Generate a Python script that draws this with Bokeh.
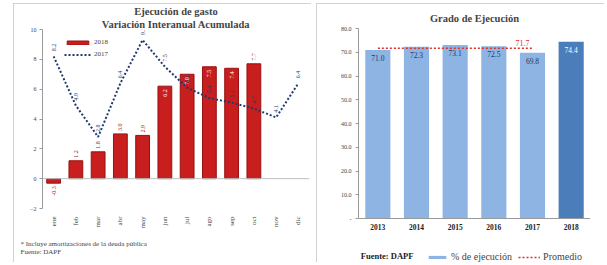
import math
from bokeh.plotting import figure
from bokeh.models import (ColumnDataSource, FactorRange, Range1d, FixedTicker, Span,
                          Legend, LegendItem, Title, NumeralTickFormatter, InlineStyleSheet)
from bokeh.embed import file_html
from bokeh.resources import INLINE
from bokeh.core.properties import value

# ---------------- data ----------------
months = ["ene", "feb", "mar", "abr", "may", "jun", "jul", "ago", "sep", "oct", "nov", "dic"]
var_2018 = [-0.3, 1.2, 1.8, 3.0, 2.9, 6.2, 7.0, 7.5, 7.4, 7.7]
var_2017 = [8.2, 4.9, 2.8, 6.4, 9.3, 7.5, 6.1, 5.4, 5.1, 4.7, 4.1, 6.4]
left_ticks = [-2, 0, 2, 4, 6, 8, 10]

years = ["2013", "2014", "2015", "2016", "2017", "2018"]
grado = [71.0, 72.3, 73.1, 72.5, 69.8, 74.4]
promedio = 71.7
right_ticks = [0, 10, 20, 30, 40, 50, 60, 70, 80]

SERIF = "Liberation Serif"
H = 259
W1, W2 = 298, 288

def panel_css(extra=""):
    return [InlineStyleSheet(css=":host { float: left; outline: 1px solid #C4C4C4; "
                                 "outline-offset: -1px; %s }" % extra)]

# ---------------- left chart ----------------
p1 = figure(width=W1, height=H, x_range=FactorRange(*months), y_range=Range1d(-2, 10),
            output_backend="svg", toolbar_location=None, title=None,
            min_border_left=29, min_border_right=2, min_border_top=26, min_border_bottom=53)
p1.stylesheets = panel_css("margin: 3px 5px 0 13px;")
p1.outline_line_color = None
p1.grid.visible = False

src18 = ColumnDataSource(dict(m=months[:len(var_2018)], v=var_2018,
                              t=["{:.1f}".format(v) for v in var_2018]))
bars18 = p1.vbar(x="m", top="v", bottom=0, width=0.62, source=src18,
                 fill_color="#C81E1E", line_color="#9A1010", line_width=1)

p1.add_layout(Span(location=0, dimension="width", line_color="#BFBFBF", line_width=1))

src17 = ColumnDataSource(dict(m=months, v=var_2017, t=["{:.1f}".format(v) for v in var_2017]))
line17 = p1.line(x="m", y="v", source=src17, line_color="#1F3A6E", line_width=2,
                 line_dash="2 2")

p1.text(x="m", y="v", text="t", source=src17, angle=math.pi / 2, text_align="left",
        text_baseline="middle", y_offset=-5, text_font=value(SERIF),
        text_font_size="6px", text_color="#1F3A6E")

inside_idx = [5, 6, 7, 8]
above = [i for i in range(len(var_2018)) if i not in inside_idx and var_2018[i] >= 0]
below = [i for i in range(len(var_2018)) if var_2018[i] < 0]
def sub(idx):
    return ColumnDataSource(dict(m=[months[i] for i in idx], v=[var_2018[i] for i in idx],
                                 t=["{:.1f}".format(var_2018[i]) for i in idx]))
p1.text(x="m", y="v", text="t", source=sub(above), angle=math.pi / 2, text_align="left",
        text_baseline="middle", y_offset=-3, text_font=value(SERIF),
        text_font_size="6px", text_color="#A01010")
p1.text(x="m", y="v", text="t", source=sub(inside_idx), angle=math.pi / 2, text_align="right",
        text_baseline="middle", y_offset=3, text_font=value(SERIF),
        text_font_size="6px", text_color="white")
p1.text(x="m", y="v", text="t", source=sub(below), angle=math.pi / 2, text_align="right",
        text_baseline="middle", y_offset=3, text_font=value(SERIF),
        text_font_size="6px", text_color="#C00000")

ya = p1.yaxis[0]
ya.ticker = FixedTicker(ticks=left_ticks)
ya.axis_line_color = "#9A9A9A"
ya.major_tick_line_color = "#9A9A9A"
ya.major_tick_out = 3
ya.major_tick_in = 0
ya.minor_tick_line_color = None
ya.major_label_text_font = SERIF
ya.major_label_text_font_size = "6px"
ya.major_label_standoff = 3

xa = p1.xaxis[0]
xa.axis_line_color = None
xa.major_tick_line_color = None
xa.minor_tick_line_color = None
xa.major_label_orientation = math.pi / 2
xa.major_label_text_font = SERIF
xa.major_label_text_font_size = "7px"
xa.major_label_standoff = 2

leg1 = Legend(items=[LegendItem(label="2018", renderers=[bars18]),
                     LegendItem(label="2017", renderers=[line17])],
              location=(22, 148), orientation="vertical", margin=0, padding=2, spacing=0,
              glyph_width=27, glyph_height=5, label_height=12, label_standoff=3,
              label_text_font=SERIF, label_text_font_size="7px",
              background_fill_alpha=0, border_line_color=None)
p1.add_layout(leg1, "center")

p1.add_layout(Title(text="Variación Interanual Acumulada", align="center", text_font=SERIF,
                    text_font_size="10.5px", text_font_style="bold", standoff=0), "above")
p1.add_layout(Title(text="Ejecución de gasto", align="center", text_font=SERIF,
                    text_font_size="10.5px", text_font_style="bold", standoff=0), "above")
p1.add_layout(Title(text="* Incluye amortizaciones de la deuda pública\nFuente: DAPF",
                    align="left", offset=-22, text_font=SERIF, text_font_size="7px",
                    text_font_style="normal", text_line_height=1.05, standoff=13), "below")

# ---------------- right chart ----------------
TOP2, ZERO2 = 25, 215          # canvas rows of the 80 and 0 gridlines
Y_LO = -80 * (H - ZERO2) / (ZERO2 - TOP2)
p2 = figure(width=W2, height=H, x_range=FactorRange(*years), y_range=Range1d(Y_LO, 80),
            output_backend="svg", toolbar_location=None, title=None, x_axis_location=None,
            min_border_left=42, min_border_right=14, min_border_top=TOP2, min_border_bottom=0)
p2.stylesheets = panel_css("margin-top: 3px;")
p2.outline_line_color = None
p2.grid.visible = False

colors = ["#8EB4E3"] * (len(years) - 1) + ["#4A7DBA"]
lblcol = ["#1F3864"] * (len(years) - 1) + ["white"]
srcg = ColumnDataSource(dict(y=years, v=grado, z=[0] * len(years), c=colors, lc=lblcol,
                             t=["{:.1f}".format(v) for v in grado]))
barsg = p2.vbar(x="y", top="v", bottom=0, width=0.65, source=srcg, fill_color="c",
                line_color=None)
p2.text(x="y", y="v", text="t", source=srcg, text_align="center", text_baseline="top",
        y_offset=5, text_font=value(SERIF), text_font_size="7.5px", text_color="lc")
# category labels under the baseline
p2.text(x="y", y="z", text="y", source=srcg, text_align="center", text_baseline="top",
        y_offset=5, text_font=value(SERIF), text_font_size="7.5px",
        text_font_style="bold", text_color="#222222")
p2.add_layout(Span(location=0, dimension="width", line_color="#9A9A9A", line_width=1))

srcp = ColumnDataSource(dict(y=years[:-1], v=[promedio] * (len(years) - 1)))
linep = p2.line(x="y", y="v", source=srcp, line_color="#E0302A", line_width=1.5,
                line_dash="2 2")
srcpl = ColumnDataSource(dict(y=[years[-2]], v=[promedio], t=["{:.1f}".format(promedio)]))
p2.text(x="y", y="v", text="t", source=srcpl, text_align="center", text_baseline="bottom",
        x_offset=-10, y_offset=-2, text_font=value(SERIF), text_font_size="8px",
        text_color="#E0302A")

# source note, on the legend's row
srcf = ColumnDataSource(dict(y=[years[0]], z=[0], t=["Fuente: DAPF"]))
p2.text(x="y", y="z", text="t", source=srcf, text_align="left", text_baseline="middle",
        x_offset=-17, y_offset=37, text_font=value(SERIF), text_font_size="8.5px",
        text_font_style="bold", text_color="#222222")

ya2 = p2.yaxis[0]
ya2.ticker = FixedTicker(ticks=right_ticks)
ya2.formatter = NumeralTickFormatter(format="0.0")
ya2.major_label_overrides = {0: "-"}
ya2.bounds = (0, 80)
ya2.axis_line_color = "#9A9A9A"
ya2.major_tick_line_color = "#9A9A9A"
ya2.major_tick_out = 3
ya2.major_tick_in = 0
ya2.minor_tick_line_color = None
ya2.major_label_text_font = SERIF
ya2.major_label_text_font_size = "6px"
ya2.major_label_standoff = 4

leg2 = Legend(items=[LegendItem(label="% de ejecución", renderers=[barsg]),
                     LegendItem(label="Promedio", renderers=[linep])],
              location=(68, 0), orientation="horizontal", margin=0, padding=2, spacing=6,
              glyph_width=22, glyph_height=4, label_height=11, label_standoff=3,
              label_text_font=SERIF, label_text_font_size="10px",
              background_fill_alpha=0, border_line_color=None)
p2.add_layout(leg2, "center")

p2.add_layout(Title(text="Grado de Ejecución", align="center", offset=-10, text_font=SERIF,
                    text_font_size="10.5px", text_font_style="bold", standoff=10), "above")

open("out.html", "w").write(file_html([p1, p2], INLINE))
